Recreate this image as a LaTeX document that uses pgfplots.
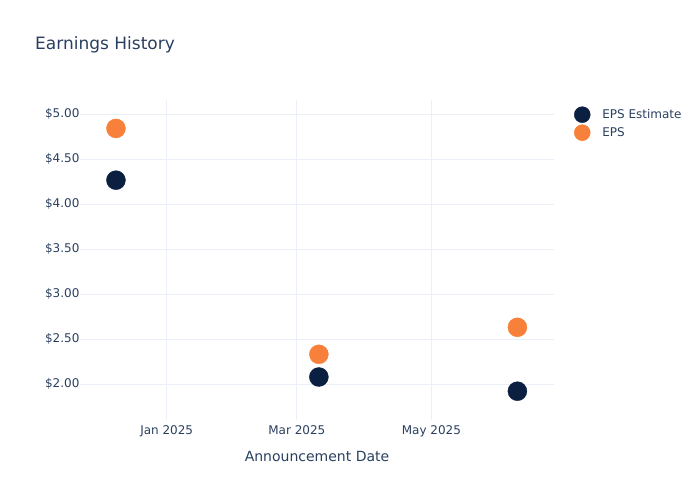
\documentclass[border=0pt]{standalone}
\usepackage{fontspec}
\setmainfont{DejaVu Sans}
\usepackage{pgfplots}
\pgfplotsset{compat=1.18}
\definecolor{txt}{HTML}{2A3F5F}
\definecolor{grd}{HTML}{EBF0F8}
\definecolor{navy}{HTML}{0B1F40}
\definecolor{orng}{HTML}{F7803A}
\begin{document}
\begin{tikzpicture}
% axis box lower-left corner sits at the origin; page is 700pt x 500pt
\useasboundingbox (-80pt,-80pt) rectangle (620pt,420pt);
\node[anchor=base west,font=\fontsize{17}{20}\selectfont,text=txt,inner sep=0] at (-45pt,370pt) {Earnings History};
% days counted from 1 Jan 2025
\begin{axis}[
    scale only axis, width=474pt, height=320pt,
    xmin=-39.3, xmax=175.6, ymin=1.6, ymax=5.156,
    axis line style={draw=none},
    tick style={draw=none},
    grid=major, major grid style={grd, line width=0.8pt},
    xtick={0,59,120},
    xticklabels={Jan 2025,Mar 2025,May 2025},
    ytick={2,2.5,3,3.5,4,4.5,5},
    yticklabels={\$2.00,\$2.50,\$3.00,\$3.50,\$4.00,\$4.50,\$5.00},
    ticklabel style={font=\fontsize{12}{14}\selectfont, text=txt},
    xticklabel style={yshift=-2pt},
    yticklabel style={xshift=3pt},
    xlabel={Announcement Date},
    xlabel style={font=\fontsize{14}{16}\selectfont, text=txt, yshift=-7pt},
    legend style={at={(1.036,0.986)}, anchor=north west, draw=none, fill=none,
        font=\fontsize{12}{14}\selectfont, text=txt, row sep=2pt, column sep=10pt},
    legend image post style={mark size=8pt},
    legend cell align=left,
]
\addplot[only marks, mark=*, mark size=9.5pt, color=navy] coordinates {
    (-23,4.265) (69,2.078) (159,1.92)};
\addlegendentry{EPS Estimate}
\addplot[only marks, mark=*, mark size=9.5pt, color=orng] coordinates {
    (-23,4.84) (69,2.33) (159,2.63)};
\addlegendentry{EPS}
\end{axis}
\end{tikzpicture}
\end{document}
